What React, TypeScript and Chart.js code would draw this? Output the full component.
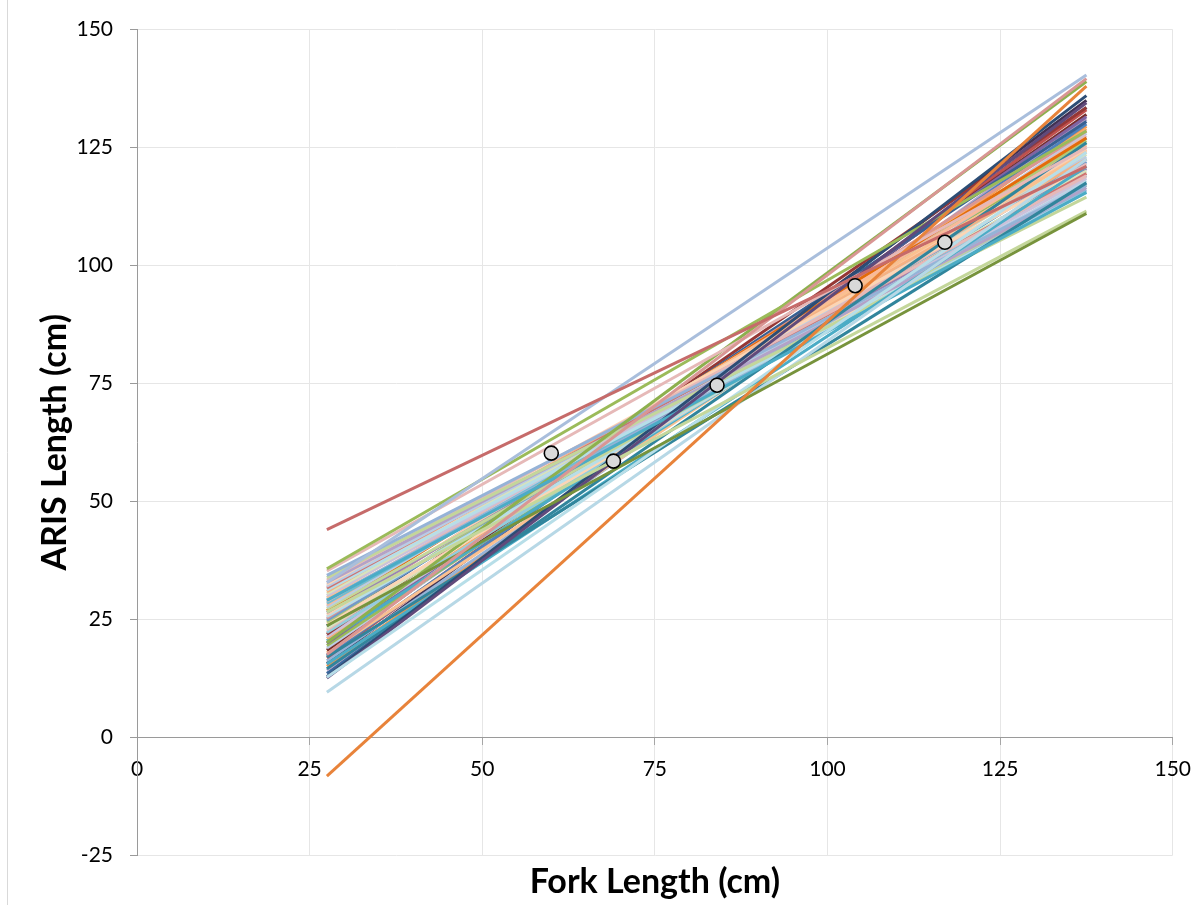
import React, { useEffect, useRef } from "react";
import { Chart, registerables } from "chart.js";

Chart.register(...registerables);

// Fitted-line x range (fork length, cm)
const fitX = [27.5, 137.5];

// Observed points
const pointX = [60, 69, 84, 104, 117];
const pointY = [60.2, 58.5, 74.6, 95.7, 104.9];

// Each fitted line: ARIS length at x = 27.5 (start) and at x = 137.5 (end)
const lineStart = [
  13.5, 14.2, 15.0, 15.6, 16.2, 16.8, 17.3, 17.9, 18.4, 18.9,
  19.4, 19.9, 20.4, 20.9, 21.3, 21.8, 22.2, 22.7, 23.1, 23.6,
  24.0, 24.4, 24.8, 25.2, 25.6, 26.0, 26.4, 26.8, 27.2, 27.6,
  28.0, 28.4, 28.8, 29.2, 29.6, 30.0, 30.4, 30.8, 31.2, 31.6,
  32.0, 32.4, 32.8, 33.3, 33.8, 34.3, 14.5, 15.5, 17.0, 12.8,
  20.0, 29.0, 35.2, 35.7, 12.5, 12.7, 9.5, 26.5, 23.6, 17.5,
  -8.3, 32.8, 44.0,
];
const lineEnd = [
  133.5, 131.0, 129.5, 135.0, 127.0, 133.0, 130.0, 124.5, 132.0, 128.0,
  126.0, 131.5, 122.5, 129.0, 125.0, 133.5, 121.0, 127.5, 123.5, 130.5,
  119.5, 126.5, 122.0, 128.5, 118.0, 124.5, 120.5, 127.0, 117.0, 123.0,
  125.5, 119.0, 121.5, 116.0, 124.0, 118.5, 120.0, 122.5, 115.5, 119.5,
  117.5, 121.0, 116.5, 119.0, 114.5, 117.0, 126.0, 121.0, 117.5, 136.0,
  139.0, 115.5, 125.0, 128.5, 134.5, 124.0, 122.5, 111.5, 111.0, 139.6,
  138.0, 140.4, 121.0,
];
const lineColor = [
  "#3A679C", "#B3A2C7", "#F79646", "#403152", "#95B3D7", "#C0504D", "#4F81BD", "#FAC090", "#772C2A", "#B9CDE5",
  "#9BBB59", "#8064A2", "#4BACC6", "#F9AB6B", "#CCC1DA", "#953735", "#93CDDD", "#E6B9B8", "#D7E4BD", "#376092",
  "#FCD5B5", "#AFC97A", "#729ACA", "#D99694", "#B7DEE8", "#FBCFB0", "#9983B5", "#E46C0A", "#C3D69B", "#B9CDE5",
  "#F9B99A", "#6FBDD1", "#E6B9B8", "#95B3D7", "#FAC090", "#CCC1DA", "#D7E4BD", "#F4B183", "#B7DEE8", "#CD7371",
  "#B9CDE5", "#FCD5B5", "#B3A2C7", "#E6B9B8", "#C3D69B", "#95B3D7", "#31859C", "#4BACC6", "#31859C", "#2C4D75",
  "#8DB04E", "#4BACC6", "#E6B9B8", "#9BBB59", "#604A7B", "#B7DEE8", "#B7D8E6", "#C4D79B", "#77933C", "#D99694",
  "#E8833A", "#A9BEDC", "#C66B6A",
];

const FONT = "Lato, 'Open Sans', 'DejaVu Sans', sans-serif";

const edgeLine = {
  id: "edgeLine",
  beforeDraw(chart: any) {
    const ctx = chart.ctx;
    ctx.save();
    ctx.strokeStyle = "#d9d9d9";
    ctx.lineWidth = 1;
    ctx.beginPath();
    ctx.moveTo(7.5, 0);
    ctx.lineTo(7.5, chart.height);
    ctx.stroke();
    ctx.restore();
  },
};

export default function App() {
  const ref = useRef<HTMLCanvasElement | null>(null);

  useEffect(() => {
    if (!ref.current) return;
    const n = lineStart.length;
    const lineSets = lineStart.map((s, i) => ({
      type: "line" as const,
      order: n - i,
      data: [
        { x: fitX[0], y: s },
        { x: fitX[1], y: lineEnd[i] },
      ],
      borderColor: lineColor[i],
      backgroundColor: lineColor[i],
      borderWidth: 3,
      pointRadius: 0,
      fill: false,
      tension: 0,
    }));
    const pts = {
      type: "scatter" as const,
      order: -1,
      data: pointX.map((x, i) => ({ x, y: pointY[i] })),
      backgroundColor: "#D9D9D9",
      borderColor: "#000000",
      borderWidth: 1.6,
      pointRadius: 7,
      showLine: false,
    };
    const chart = new Chart(ref.current, {
      type: "scatter",
      data: { datasets: [pts, ...lineSets] as any },
      options: {
        animation: false,
        responsive: false,
        devicePixelRatio: 1,
        layout: { padding: { left: 0, right: 29, top: 28, bottom: 0 } },
        plugins: { legend: { display: false }, tooltip: { enabled: false } },
        scales: {
          x: {
            type: "linear",
            position: { y: 0 } as any,
            min: 0,
            max: 150,
            ticks: { stepSize: 25, padding: 13, color: "#000", font: { family: FONT, size: 21 } },
            grid: { color: "#e6e6e6", tickColor: "#a6a6a6", tickLength: 7, lineWidth: 1 },
            border: { color: "#9a9a9a", width: 1 },
          },
          x2: {
            type: "linear",
            position: "bottom",
            axis: "x",
            min: 0,
            max: 150,
            ticks: { display: false },
            grid: { display: false },
            border: { display: false },
            title: {
              display: true,
              text: "Fork Length (cm)",
              color: "#000",
              font: { family: FONT, size: 34, weight: "bold" },
              padding: { top: 0, bottom: 3 },
            },
            afterFit(scale: any) {
              scale.height = 50;
            },
          } as any,
          y: {
            type: "linear",
            position: "left",
            min: -25,
            max: 150,
            ticks: { stepSize: 25, padding: 17, color: "#000", font: { family: FONT, size: 21 } },
            grid: { color: "#e6e6e6", tickColor: "#9a9a9a", tickLength: 7, lineWidth: 1 },
            border: { color: "#9a9a9a", width: 1 },
            title: {
              display: true,
              text: "ARIS Length (cm)",
              color: "#000",
              font: { family: FONT, size: 34, weight: "bold" },
              padding: { top: 35, bottom: 0 },
            },
            afterFit(scale: any) {
              scale.width = 137;
            },
          },
        },
      },
      plugins: [edgeLine],
    });
    return () => chart.destroy();
  }, []);

  return (
    <div style={{ position: "absolute", left: 0, top: 0, width: 1204, height: 905, background: "#fff" }}>
      <canvas ref={ref} width={1204} height={905} style={{ display: "block" }} />
    </div>
  );
}
